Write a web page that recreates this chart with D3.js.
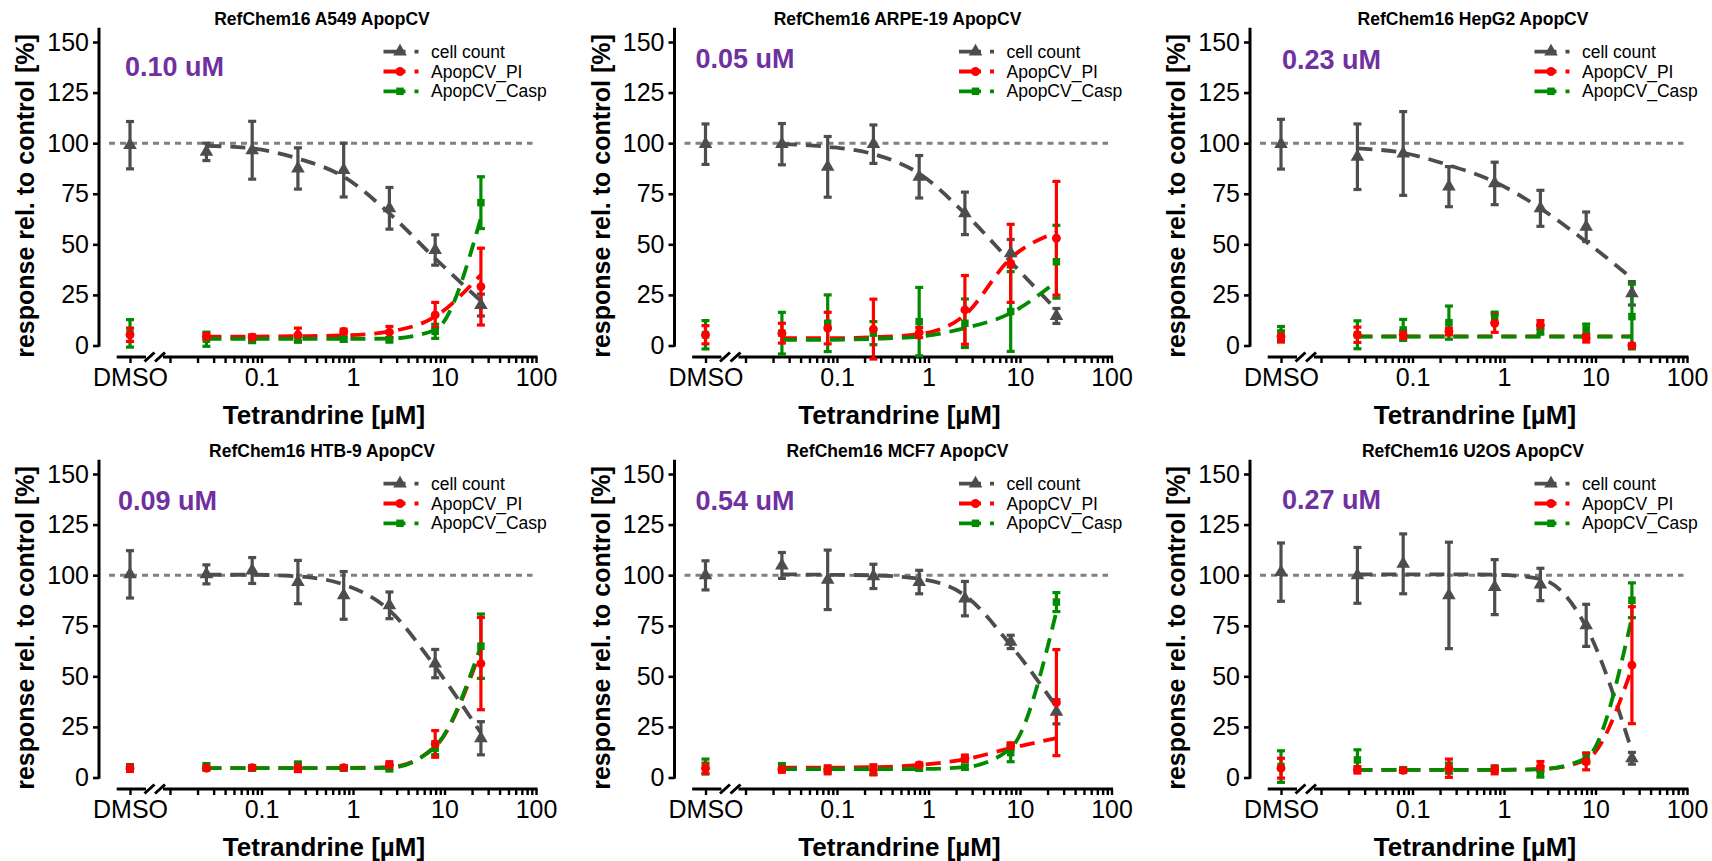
<!DOCTYPE html>
<html>
<head>
<meta charset="utf-8">
<script src="https://cdn.jsdelivr.net/npm/d3@7"></script>
<style>
  html, body { margin: 0; padding: 0; background: #ffffff; }
  svg { display: block; }
  text { font-family: "Liberation Sans", Arial, sans-serif; }
</style>
</head>
<body>
<svg id="chart" width="1712" height="861"></svg>
<script>
// ---- data -----------------------------------------------------------
const cellLines = ["A549", "ARPE-19", "HepG2", "HTB-9", "MCF7", "U2OS"];
const potencyLabels = ["0.10 uM", "0.05 uM", "0.23 uM", "0.09 uM", "0.54 uM", "0.27 uM"];
const seriesNames = ["cell count", "ApopCV_PI", "ApopCV_Casp"];
const controlLabel = "DMSO";
const doses = [0.025, 0.0791, 0.25, 0.791, 2.5, 7.91, 25];   // µM
const xTickLabels = ["0.1", "1", "10", "100"];
const yTickValues = [0, 25, 50, 75, 100, 125, 150];

// per cell line: first value = DMSO control, then one value per dose
const countMean = [
  [99, 95.7, 96.5, 87.5, 86.7, 67.8, 47.2, 20],
  [99.5, 99.5, 88.3, 99.5, 83.4, 65.3, 45.6, 14.6],
  [99.5, 93.3, 94.9, 78.5, 80.1, 67.8, 58.7, 25.8],
  [100.4, 100.4, 102.3, 96.6, 90, 85.1, 56.3, 19.4],
  [99.9, 104.8, 97.7, 99.4, 96.6, 88.4, 67, 32.5],
  [101.5, 99.9, 105.6, 90, 94.1, 95.4, 75.2, 9.5]
];
const countSd = [
  [11.7, 4.3, 14.3, 10.2, 13.3, 10.3, 7.5, 5.4],
  [10, 10.2, 15, 9.5, 10.5, 10.5, 6.8, 3.7],
  [12.3, 16.2, 20.7, 9.9, 10.5, 8.9, 7.3, 5.8],
  [11.7, 4.7, 6.4, 10.7, 11.8, 6.6, 7, 8.2],
  [7.2, 6.4, 14.7, 6, 5.8, 8.5, 3.3, 6],
  [14.4, 13.8, 14.8, 26.3, 13.6, 8, 10.4, 2.9]
];
const piMean = [
  [5.3, 4.4, 4.1, 5.3, 6.9, 6.6, 15.1, 29.1],
  [5.3, 6.1, 8.6, 8.1, 6.4, 17.6, 40.6, 53],
  [4.4, 5.3, 5.3, 6.9, 11, 10.2, 3.6, 0],
  [4.6, 4.6, 4.9, 4.9, 4.9, 6.2, 16.6, 56.3],
  [4.6, 4.1, 3.8, 3.8, 6.2, 9.5, 15.6, 37],
  [4.6, 3.8, 3.5, 4.6, 3.8, 5.4, 7.9, 55.5]
];
const piSd = [
  [3.3, 1.5, 1.2, 3.3, 1.2, 2.8, 6.2, 19],
  [4.5, 4.9, 7.8, 14.8, 2.5, 17, 19.3, 28.1],
  [2.7, 3.8, 1.9, 1.7, 4.5, 2.1, 1.9, 0.8],
  [1.6, 1, 1, 2, 1, 1.6, 6.6, 22.8],
  [2.5, 1.5, 2, 2.5, 1, 1.6, 1.5, 26.2],
  [4.9, 1.6, 1, 4.5, 2, 2.5, 4.1, 28.9]
];
const caspMean = [
  [6, 3.1, 2.5, 3.1, 3.1, 2.8, 7, 70.6],
  [5.3, 6.1, 11, 6.1, 11.8, 11, 16.8, 41.4],
  [6.1, 5.3, 7.7, 11.3, 14, 7.7, 8.1, 14.3],
  [4.9, 5.4, 4.6, 5.7, 4.6, 4.6, 14.5, 64.9],
  [5.4, 5.1, 3.8, 3.5, 4.6, 5.1, 12.3, 86.7],
  [5.4, 8.7, 3.8, 4.6, 4.1, 2.1, 9.5, 87.6]
];
const caspSd = [
  [6.8, 3.5, 1, 1.5, 1, 1, 3.5, 12.8],
  [7, 10.3, 14, 5.7, 16.9, 12, 19.7, 18],
  [3.3, 6.9, 5.2, 8.2, 2.5, 2.1, 2.5, 16],
  [1.5, 1.5, 1, 2, 1, 1.4, 3.2, 15.9],
  [3.7, 1.8, 1, 2, 1, 1, 4.5, 4.7],
  [7.8, 5, 1, 2.5, 1, 1.9, 2.6, 8.6]
];

// fitted dose-response curves, value at each dose
const countFit = [
  [98.7, 97.4, 92.4, 83.4, 65.3, 43, 22],
  [99.5, 98.2, 94.6, 85, 65.3, 41.4, 17.6],
  [97.4, 95.2, 89.1, 80.9, 67.8, 51.3, 33.2],
  [100.2, 100.2, 99.4, 95.4, 82.6, 54.7, 22],
  [100.4, 100.2, 99.9, 98.2, 90, 65.4, 35],
  [100.4, 100.4, 100.4, 100.2, 98.2, 74.4, 13]
];
const piFit = [
  [4.4, 4.4, 4.6, 5, 6.9, 14.3, 35],
  [3.6, 3.6, 4.1, 5.6, 15.1, 43.1, 56],
  [4.5, 4.5, 4.5, 4.5, 4.5, 4.5, 4.5],
  [4.6, 4.6, 4.6, 4.7, 5.1, 15.3, 63],
  [4.9, 4.9, 5.1, 6.2, 9, 14.5, 19.5],
  [3.8, 3.8, 3.8, 3.8, 4.1, 8.7, 53.9]
];
const caspFit = [
  [3.3, 3.3, 3.3, 3.3, 3.4, 7.7, 63],
  [2.8, 2.8, 3.3, 4.4, 8.6, 16, 31.6],
  [4.4, 4.4, 4.4, 4.4, 4.4, 4.4, 4.4],
  [4.6, 4.6, 4.6, 4.6, 4.8, 15.3, 65],
  [4.1, 4.1, 4.1, 4.2, 5.1, 14.5, 82],
  [3.8, 3.8, 3.8, 3.8, 4.1, 9.5, 79]
];

// ---- layout & style -------------------------------------------------
const panelW = 575.5, panelH = 432;
const yAxisX = 99;
const colors = ["#4d4d4d", "#ff0000", "#008b00"];
const symbols = [d3.symbolTriangle, d3.symbolCircle, d3.symbolSquare];
const symbolSizes = [80, 62, 56];
// potency label anchor (left, middle) inside each panel
const potencyPos = [[125, 67], [120, 59], [131, 60], [118, 69], [120, 69], [131, 68]];

const x = d3.scaleLog().domain([0.01, 100]).range([170, 536]);
const xCtrl = d3.scaleOrdinal().domain([controlLabel]).range([130]);
const y = d3.scaleLinear().domain([0, 150]).range([345.5, 42]);
const xAxisY = 357;

const svg = d3.select("#chart");
svg.append("rect").attr("width", 1712).attr("height", 861).attr("fill", "#fff");

const means = [countMean, piMean, caspMean];
const sds = [countSd, piSd, caspSd];
const fits = [countFit, piFit, caspFit];

const curve = d3.line()
  .x(d => x(d.dose))
  .y(d => y(d.v))
  .curve(d3.curveMonotoneX);

cellLines.forEach((line, i) => {
  const col = i % 3, row = Math.floor(i / 3);
  const g = svg.append("g").attr("transform", `translate(${col * panelW},${row * panelH})`);

  // title
  g.append("text")
    .attr("x", 322).attr("y", 18.5).attr("dy", "0.35em")
    .attr("text-anchor", "middle")
    .attr("font-size", 17.5).attr("font-weight", "bold")
    .text(`RefChem16 ${line} ApopCV`);

  // y axis
  const yAxis = d3.axisLeft(y).tickValues(yTickValues).tickSize(6).tickPadding(4);
  const ya = g.append("g").attr("transform", `translate(${yAxisX},0)`).call(yAxis);
  ya.select(".domain").remove();
  ya.selectAll(".tick line").attr("stroke", "#000").attr("stroke-width", 2.6);
  ya.selectAll(".tick text").attr("font-size", 25).attr("fill", "#000")
    .attr("font-family", "Liberation Sans, Arial, sans-serif");
  g.append("line")
    .attr("x1", yAxisX).attr("x2", yAxisX)
    .attr("y1", y(157)).attr("y2", y(0) + 1.3)
    .attr("stroke", "#000").attr("stroke-width", 3);

  // x axis: control position, axis break, log axis
  const logTicks = [];
  [0.01, 0.1, 1, 10].forEach(dec => { for (let k = 1; k < 10; k++) logTicks.push(dec * k); });
  logTicks.push(100);
  const xAxis = d3.axisBottom(x).tickValues(logTicks).tickSize(6).tickPadding(5)
    .tickFormat(v => {
      const s = d3.format("~g")(+v.toPrecision(3));
      return xTickLabels.includes(s) ? s : "";
    });
  const xa = g.append("g").attr("transform", `translate(0,${xAxisY})`).call(xAxis);
  xa.select(".domain").remove();
  const xc = g.append("g").attr("transform", `translate(0,${xAxisY})`)
    .call(d3.axisBottom(xCtrl).tickSize(6).tickPadding(5));
  xc.select(".domain").remove();
  [xa, xc].forEach(a => {
    a.selectAll(".tick line").attr("stroke", "#000").attr("stroke-width", 2.4);
    a.selectAll(".tick text").attr("font-size", 25).attr("fill", "#000")
      .attr("font-family", "Liberation Sans, Arial, sans-serif");
  });
  const axisLine = g.append("g").attr("stroke", "#000").attr("stroke-width", 3);
  axisLine.append("line").attr("x1", 116.7).attr("x2", 146).attr("y1", xAxisY).attr("y2", xAxisY);
  axisLine.append("line").attr("x1", 163).attr("x2", x(100) + 1.5).attr("y1", xAxisY).attr("y2", xAxisY);
  [149.5, 160].forEach(bx => {
    axisLine.append("line")
      .attr("x1", bx - 5).attr("y1", xAxisY + 4.5)
      .attr("x2", bx + 5).attr("y2", xAxisY - 4.5);
  });

  // axis titles
  g.append("text")
    .attr("transform", "translate(25.4,196) rotate(-90)")
    .attr("text-anchor", "middle").attr("dy", "0.35em")
    .attr("font-size", 25).attr("font-weight", "bold")
    .text("response rel. to control [%]");
  g.append("text")
    .attr("x", 324).attr("y", 415).attr("dy", "0.35em")
    .attr("text-anchor", "middle")
    .attr("font-size", 26).attr("font-weight", "bold")
    .text("Tetrandrine [µM]");

  // 100 % reference
  g.append("line")
    .attr("x1", 109).attr("x2", 532.5)
    .attr("y1", y(100)).attr("y2", y(100))
    .attr("stroke", "#808080").attr("stroke-width", 3)
    .attr("stroke-dasharray", "6,5");

  // fitted curves
  [0, 1, 2].forEach(s => {
    const pts = doses.map((dose, k) => ({ dose, v: fits[s][i][k] }));
    g.append("path")
      .attr("d", curve(pts))
      .attr("fill", "none")
      .attr("stroke", colors[s])
      .attr("stroke-width", 3.8)
      .attr("stroke-dasharray", "15,9");
  });

  const pos = k => (k === 0 ? xCtrl(controlLabel) : x(doses[k - 1]));

  // error bars
  [0, 2, 1].forEach(s => {
    const eg = g.append("g").attr("stroke", colors[s]).attr("stroke-width", 3.2);
    means[s][i].forEach((m, k) => {
      const px = pos(k), lo = y(m - sds[s][i][k]), hi = y(m + sds[s][i][k]);
      eg.append("line").attr("x1", px).attr("x2", px).attr("y1", lo).attr("y2", hi);
      eg.append("line").attr("x1", px - 4).attr("x2", px + 4).attr("y1", lo).attr("y2", lo);
      eg.append("line").attr("x1", px - 4).attr("x2", px + 4).attr("y1", hi).attr("y2", hi);
    });
  });

  // points
  [0, 2, 1].forEach(s => {
    const sym = d3.symbol().type(symbols[s]).size(symbolSizes[s]);
    g.append("g").selectAll("path")
      .data(means[s][i])
      .join("path")
      .attr("transform", (m, k) => `translate(${pos(k)},${y(m)})`)
      .attr("d", sym)
      .attr("fill", colors[s]);
  });

  // potency label
  g.append("text")
    .attr("x", potencyPos[i][0]).attr("y", potencyPos[i][1]).attr("dy", "0.35em")
    .attr("font-family", "Lato, 'Open Sans', sans-serif")
    .attr("font-weight", "bold").attr("font-size", 27)
    .attr("fill", "#7030a0")
    .text(potencyLabels[i]);

  // legend
  const lg = g.append("g");
  seriesNames.forEach((name, s) => {
    const ly = 51.7 + s * 19.8;
    lg.append("line")
      .attr("x1", 383.5).attr("x2", 418.5).attr("y1", ly).attr("y2", ly)
      .attr("stroke", colors[s]).attr("stroke-width", 3.8)
      .attr("stroke-dasharray", "22,9");
    lg.append("path")
      .attr("transform", `translate(400,${ly})`)
      .attr("d", d3.symbol().type(symbols[s]).size(symbolSizes[s])())
      .attr("fill", colors[s]);
    lg.append("text")
      .attr("x", 431).attr("y", ly).attr("dy", "0.35em")
      .attr("font-size", 17.5).attr("fill", "#000")
      .text(name);
  });
});
</script>
</body>
</html>
